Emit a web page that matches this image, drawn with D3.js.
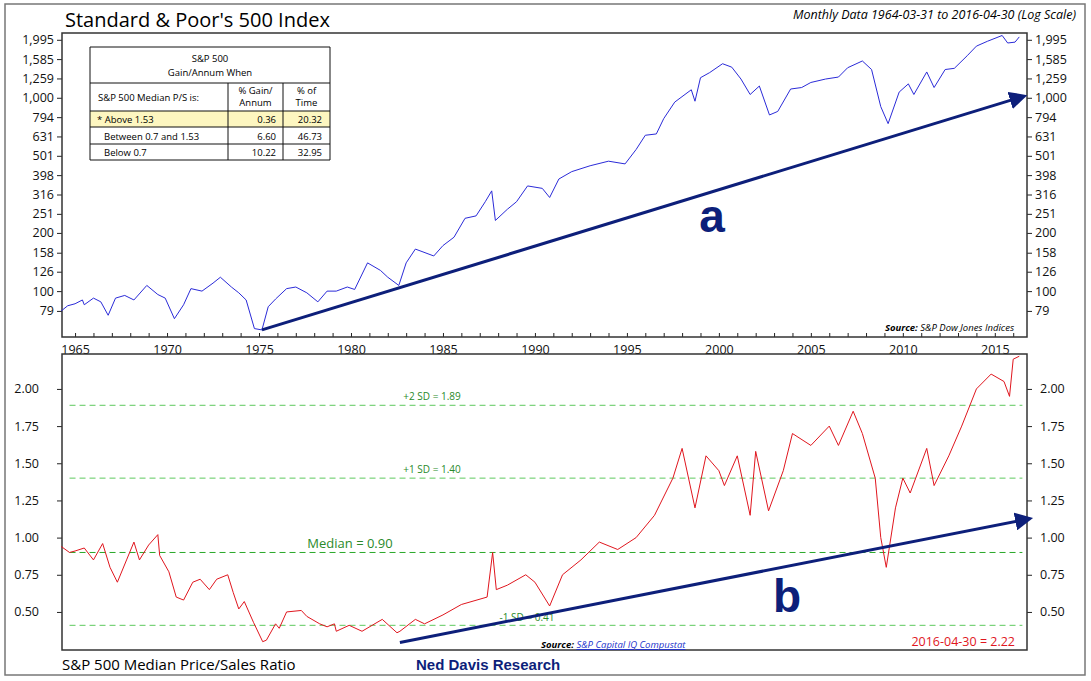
<!DOCTYPE html>
<html><head><meta charset="utf-8">
<script src="https://cdn.jsdelivr.net/npm/d3@7"></script>
<style>body{margin:0;background:#fff}svg{font-family:"Open Sans",sans-serif}</style>
</head><body><svg id="c" width="1091" height="681"></svg>
<script>
const spxYears=[1964.25,1964.6,1965.0,1965.4,1965.5,1966.0,1966.4,1966.8,1967.2,1967.7,1968.2,1968.9,1969.5,1969.9,1970.4,1970.9,1971.3,1971.9,1972.5,1972.9,1973.5,1973.9,1974.3,1974.75,1975.16,1975.5,1975.9,1976.5,1977.0,1977.6,1978.2,1978.7,1979.2,1979.8,1980.2,1980.9,1981.6,1982.0,1982.6,1983.0,1983.5,1984.5,1985.0,1985.6,1986.2,1986.8,1987.3,1987.65,1987.85,1988.5,1989.0,1989.6,1990.4,1990.8,1991.3,1992.0,1993.0,1994.0,1994.9,1995.5,1996.0,1996.6,1997.0,1997.6,1998.5,1998.7,1999.0,1999.5,2000.2,2000.7,2001.2,2001.7,2002.2,2002.75,2003.2,2003.9,2004.5,2005.0,2005.8,2006.5,2007.0,2007.8,2008.3,2008.8,2009.2,2009.8,2010.3,2010.6,2011.3,2011.7,2012.3,2012.8,2013.5,2014.0,2014.6,2015.4,2015.7,2016.1,2016.33];
const spxValues=[79,84,86,90,85,92,88,75,92,95,90,107,96,92,72,85,103,100,110,118,105,98,90,64,63,83,91,103,105,98,88,100,100,105,102,140,128,118,107,140,165,152,172,190,238,245,290,330,232,265,290,350,340,305,380,415,445,470,455,540,640,650,780,950,1100,960,1270,1350,1500,1440,1250,1040,1150,815,850,1110,1130,1200,1250,1280,1430,1550,1400,900,735,1070,1180,1040,1360,1130,1400,1420,1650,1850,1960,2100,1920,1940,2065];
const psYears=[1964.25,1964.7,1965.0,1965.5,1966.0,1966.5,1966.9,1967.3,1967.8,1968.2,1968.5,1969.0,1969.5,1969.6,1970.1,1970.5,1970.9,1971.4,1971.8,1972.3,1972.7,1973.3,1973.6,1973.9,1974.2,1974.7,1975.2,1975.4,1975.9,1976.1,1976.5,1977.3,1977.6,1978.3,1978.7,1979.1,1979.2,1979.9,1980.6,1981.7,1982.5,1982.66,1983.5,1984.0,1985.0,1986.0,1987.4,1987.7,1987.9,1988.5,1989.5,1990.0,1990.8,1991.5,1992.5,1993.5,1994.5,1995.5,1996.5,1997.5,1998.0,1998.7,1999.3,2000.0,2000.3,2001.0,2001.7,2002.0,2002.7,2003.5,2004.0,2005.0,2006.0,2006.5,2007.3,2007.8,2008.5,2008.8,2009.1,2009.6,2010.0,2010.4,2011.3,2011.7,2012.5,2013.2,2014.0,2014.8,2015.5,2015.8,2016.0,2016.33];
const psValues=[0.94,0.90,0.91,0.93,0.85,0.96,0.80,0.70,0.85,0.97,0.85,0.95,1.02,0.88,0.77,0.60,0.58,0.70,0.72,0.65,0.72,0.75,0.63,0.52,0.57,0.43,0.30,0.31,0.42,0.39,0.50,0.51,0.47,0.42,0.40,0.42,0.37,0.41,0.37,0.45,0.36,0.37,0.45,0.42,0.48,0.55,0.60,0.90,0.65,0.68,0.75,0.70,0.54,0.75,0.85,0.97,0.92,1.00,1.15,1.40,1.60,1.20,1.55,1.45,1.35,1.55,1.15,1.58,1.18,1.45,1.70,1.62,1.75,1.62,1.85,1.70,1.40,1.00,0.80,1.20,1.40,1.30,1.60,1.35,1.55,1.75,2.00,2.10,2.05,1.95,2.20,2.22];
const logTicks=[1995,1585,1259,1000,794,631,501,398,316,251,200,158,126,100,79];
const psTicks=[0.50,0.75,1.00,1.25,1.50,1.75,2.00];
const yearTicks=[1965,1970,1975,1980,1985,1990,1995,2000,2005,2010,2015];
const sdLevels=[1.89,1.40,0.90,0.41];
const sdLabels=["+2 SD = 1.89","+1 SD = 1.40","Median = 0.90","-1 SD = 0.41"];
const tableRows=[["* Above 1.53","0.36","20.32"],["Between 0.7 and 1.53","6.60","46.73"],["Below 0.7","10.22","32.95"]];

const svg=d3.select("#c");
const L=62,R=1027,T1=33,B1=337,T2=354,B2=650;
const x=d3.scaleLinear().domain([1964.29,2016.75]).range([L,R]);
const y1=d3.scaleLog().domain([57.9,2163]).range([B1,T1]);
const y2=d3.scaleLinear().domain([0.244,2.235]).range([B2,T2]);
const navy="#0d1f7a";
svg.append("defs").append("marker").attr("id","ah").attr("viewBox","0 0 10 10").attr("refX",5).attr("refY",5)
 .attr("markerWidth",6).attr("markerHeight",6).attr("orient","auto").append("path").attr("d","M0,0L10,5L0,10z").attr("fill",navy);
svg.append("rect").attr("x",5).attr("y",4).attr("width",1080).attr("height",671).attr("fill","none").attr("stroke","#777").attr("stroke-width",1.5);
svg.append("text").attr("x",65).attr("y",27).attr("font-size",20).text("Standard & Poor's 500 Index");
svg.append("text").attr("x",1076).attr("y",19).attr("text-anchor","end").attr("font-size",12.5).attr("font-style","italic").text("Monthly Data 1964-03-31 to 2016-04-30 (Log Scale)");

// axes panel 1
const fmt=d3.format(",");
svg.append("g").attr("transform",`translate(${L},0)`).call(d3.axisLeft(y1).tickValues(logTicks).tickFormat(fmt).tickSize(5)).call(g=>g.select(".domain").remove());
svg.append("g").attr("transform",`translate(${R},0)`).call(d3.axisRight(y1).tickValues(logTicks).tickFormat(fmt).tickSize(5)).call(g=>g.select(".domain").remove());
svg.append("g").attr("transform",`translate(0,${B1})`).call(d3.axisTop(x).tickValues(d3.range(1965,2017)).tickFormat("").tickSize(4)).call(g=>g.select(".domain").remove());
svg.append("g").attr("transform",`translate(0,${B1})`).call(d3.axisBottom(x).tickValues(yearTicks).tickFormat(d3.format("d")).tickSize(0).tickPadding(8)).call(g=>g.select(".domain").remove());
// panel 2 axes
svg.append("g").attr("transform",`translate(${L},0)`).call(d3.axisLeft(y2).tickValues(psTicks).tickFormat(d3.format(".2f")).tickSize(5).tickPadding(18)).call(g=>g.select(".domain").remove());
svg.append("g").attr("transform",`translate(${R},0)`).call(d3.axisRight(y2).tickValues(psTicks).tickFormat(d3.format(".2f")).tickSize(5).tickPadding(8)).call(g=>g.select(".domain").remove());
svg.selectAll(".tick text").attr("font-size",12.5).attr("font-family","Open Sans").attr("fill","#111");
svg.selectAll(".tick line").attr("stroke","#222");
svg.append("rect").attr("x",L).attr("y",T1).attr("width",R-L).attr("height",B1-T1).attr("fill","none").attr("stroke","#333").attr("stroke-width",1.5);
svg.append("rect").attr("x",L).attr("y",T2).attr("width",R-L).attr("height",B2-T2).attr("fill","none").attr("stroke","#333").attr("stroke-width",1.5);

// spx line
svg.append("path").datum(spxYears.map((d,i)=>[d,spxValues[i]])).attr("fill","none").attr("stroke","#2b2bd8").attr("stroke-width",1)
 .attr("d",d3.line().x(d=>x(d[0])).y(d=>y1(d[1])));
svg.append("line").attr("x1",x(1975.16)).attr("y1",y1(63)).attr("x2",x(2016.3)).attr("y2",y1(1000)).attr("stroke",navy).attr("stroke-width",3).attr("marker-end","url(#ah)");
svg.append("text").attr("x",712).attr("y",232).attr("text-anchor","middle").attr("font-size",46).attr("font-weight","bold").attr("font-family","Liberation Sans").attr("fill",navy).text("a");
svg.append("text").attr("x",1014).attr("y",331).attr("text-anchor","end").attr("font-size",9.5).attr("font-style","italic")
 .html('<tspan font-weight="bold">Source:</tspan>  S&amp;P Dow Jones Indices');

// table
const tb=svg.append("g").attr("font-size",9.5);
const tx=90,tw=240,c1=228,c2=283;
tb.append("rect").attr("x",tx).attr("y",111).attr("width",tw).attr("height",16).attr("fill","#fdf6c0");
[[47,0],[83,0],[111,0],[127,0],[144,0],[160,0]].forEach(([yy])=>tb.append("line").attr("x1",tx).attr("x2",tx+tw).attr("y1",yy).attr("y2",yy).attr("stroke","#111"));
[tx,tx+tw].forEach(xx=>tb.append("line").attr("x1",xx).attr("x2",xx).attr("y1",47).attr("y2",160).attr("stroke","#111"));
[c1,c2].forEach(xx=>tb.append("line").attr("x1",xx).attr("x2",xx).attr("y1",83).attr("y2",160).attr("stroke","#111"));
tb.append("text").attr("x",tx+tw/2).attr("y",62).attr("text-anchor","middle").text("S&P 500");
tb.append("text").attr("x",tx+tw/2).attr("y",76).attr("text-anchor","middle").text("Gain/Annum When");
tb.append("text").attr("x",98).attr("y",101).text("S&P 500 Median P/S is:");
tb.append("text").attr("x",(c1+c2)/2).attr("y",94).attr("text-anchor","middle").text("% Gain/");
tb.append("text").attr("x",(c1+c2)/2).attr("y",106).attr("text-anchor","middle").text("Annum");
tb.append("text").attr("x",(c2+tx+tw)/2).attr("y",94).attr("text-anchor","middle").text("% of");
tb.append("text").attr("x",(c2+tx+tw)/2).attr("y",106).attr("text-anchor","middle").text("Time");
tableRows.forEach((r,i)=>{const yy=123+i*16.5;
 tb.append("text").attr("x",i==0?97:104).attr("y",yy).text(r[0]);
 tb.append("text").attr("x",c2-7).attr("y",yy).attr("text-anchor","end").text(r[1]);
 tb.append("text").attr("x",tx+tw-8).attr("y",yy).attr("text-anchor","end").text(r[2]);});

// panel 2
const g2=svg.append("g");
sdLevels.forEach((v,i)=>{
 g2.append("line").attr("x1",x(1964.7)).attr("x2",x(2016.5)).attr("y1",y2(v)).attr("y2",y2(v)).attr("stroke",i==2?"#2aa82a":"#5ec95e").attr("stroke-width",1).attr("stroke-dasharray","6,4");
});
g2.append("text").attr("x",432).attr("y",y2(1.89)-5).attr("text-anchor","middle").attr("font-size",10).attr("fill","#2a8a2a").text(sdLabels[0]);
g2.append("text").attr("x",432).attr("y",y2(1.40)-5).attr("text-anchor","middle").attr("font-size",10).attr("fill","#2a8a2a").text(sdLabels[1]);
g2.append("text").attr("x",350).attr("y",y2(0.90)-4).attr("text-anchor","middle").attr("font-size",13).attr("fill","#2a8a2a").text(sdLabels[2]);
g2.append("text").attr("x",527).attr("y",y2(0.41)-4).attr("text-anchor","middle").attr("font-size",10).attr("fill","#2a8a2a").text(sdLabels[3]);
g2.append("path").datum(psYears.map((d,i)=>[d,psValues[i]])).attr("fill","none").attr("stroke","#e0161e").attr("stroke-width",1)
 .attr("d",d3.line().x(d=>x(d[0])).y(d=>y2(d[1])));
g2.append("line").attr("x1",x(1982.66)).attr("y1",y2(0.295)).attr("x2",x(2016.6)).attr("y2",y2(1.12)).attr("stroke",navy).attr("stroke-width",3).attr("marker-end","url(#ah)");
g2.append("text").attr("x",787).attr("y",612).attr("text-anchor","middle").attr("font-size",46).attr("font-weight","bold").attr("font-family","Liberation Sans").attr("fill",navy).text("b");
g2.append("text").attr("x",541).attr("y",648).attr("font-size",9.5).attr("font-style","italic")
 .html('<tspan font-weight="bold">Source:</tspan> <tspan fill="#2233cc" text-decoration="underline">S&amp;P Capital IQ Compustat</tspan>');
g2.append("text").attr("x",1015).attr("y",646).attr("text-anchor","end").attr("font-size",12.5).attr("fill","#e0161e").text("2016-04-30 = 2.22");
svg.append("text").attr("x",62).attr("y",670).attr("font-size",15).text("S&P 500 Median Price/Sales Ratio");
svg.append("text").attr("x",416).attr("y",670).attr("font-size",15).attr("font-weight","bold").attr("font-family","Liberation Sans Narrow, Liberation Sans").attr("fill",navy).text("Ned Davis Research");
</script></body></html>
